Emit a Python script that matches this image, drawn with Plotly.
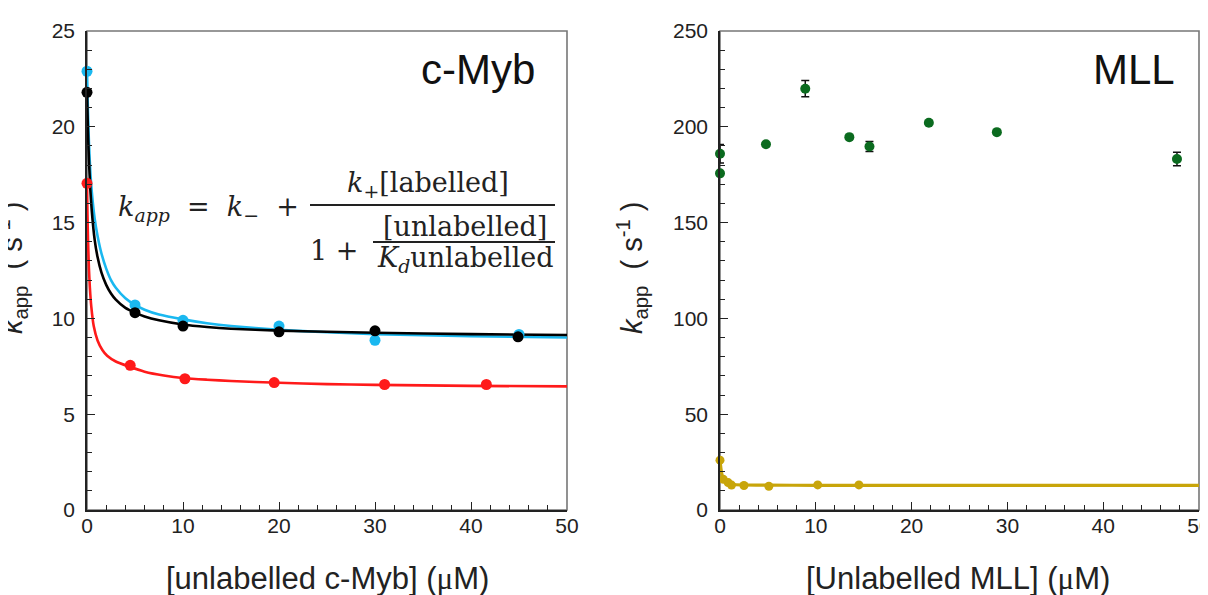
import plotly.graph_objects as go

# page has an 8px body margin; figure sized to fit the 1208x595 window
W, H = 1200, 587
OFF = 8

# ---- c-Myb panel data ----
cyan_pts_x = [0, 5, 10, 20, 30, 45]
cyan_pts_y = [22.9, 10.7, 9.9, 9.6, 8.86, 9.16]
black_pts_x = [0, 5, 10, 20, 30, 44.9]
black_pts_y = [21.8, 10.3, 9.6, 9.3, 9.35, 9.04]
red_pts_x = [0, 4.5, 10.2, 19.5, 31.0, 41.6]
red_pts_y = [17.05, 7.55, 6.85, 6.65, 6.55, 6.55]

cyan_fit_x = [0, 0.1, 0.2, 0.35, 0.5, 0.8, 1.1, 1.5, 2, 2.5, 3, 4, 5, 6, 7.5, 10, 12.5, 15, 20, 25, 30, 40, 50]
cyan_fit_y = [22.9, 20.8, 19.2, 17.6, 16.6, 15.2, 14.3, 13.4, 12.6, 12.0, 11.6, 11.05, 10.7, 10.45, 10.2, 9.95, 9.75, 9.6, 9.4, 9.28, 9.18, 9.07, 9.0]
black_fit_x = [0, 0.1, 0.2, 0.35, 0.5, 0.8, 1.1, 1.5, 2, 2.5, 3, 4, 5, 6, 7.5, 10, 12.5, 15, 20, 25, 30, 40, 50]
black_fit_y = [21.8, 19.8, 18.3, 16.7, 15.6, 14.1, 13.2, 12.4, 11.75, 11.3, 10.98, 10.55, 10.3, 10.1, 9.9, 9.68, 9.55, 9.46, 9.36, 9.3, 9.25, 9.18, 9.13]
red_fit_x = [0, 0.05, 0.1, 0.2, 0.3, 0.45, 0.7, 1.1, 1.6, 2.1, 3, 4.3, 6, 8, 10.2, 12.5, 15, 20, 25, 30, 40, 50]
red_fit_y = [17.0, 15.4, 14.2, 12.6, 11.6, 10.6, 9.6, 8.85, 8.35, 8.05, 7.75, 7.5, 7.22, 7.02, 6.88, 6.8, 6.73, 6.64, 6.57, 6.53, 6.48, 6.45]

# ---- MLL panel data ----
green_x = [0, 0, 4.8, 8.9, 13.5, 15.6, 21.8, 28.9, 47.7]
green_y = [185.9, 175.7, 190.9, 219.9, 194.6, 189.7, 202.1, 197.2, 183.2]
green_err = [4.8, 0, 0, 4.2, 0, 2.6, 0, 0, 3.5]
gold_x = [0, 0.35, 0.85, 1.2, 2.5, 5.1, 10.2, 14.5]
gold_y = [26.0, 16.0, 14.3, 13.0, 12.8, 12.4, 13.1, 13.1]
gold_fit_x = [0, 0.1, 0.2, 0.35, 0.6, 1.0, 1.5, 2.5, 5, 10, 20, 30, 40, 50]
gold_fit_y = [26.0, 21.5, 18.6, 16.3, 14.6, 13.7, 13.3, 13.05, 12.95, 12.9, 12.9, 12.9, 12.9, 12.9]

x_ticks = [0, 10, 20, 30, 40, 50]
left_y_ticks = [0, 5, 10, 15, 20, 25]
right_y_ticks = [0, 50, 100, 150, 200, 250]

CYAN = "#1ab8f0"
BLACK = "#000000"
RED = "#ff1a1a"
GREEN = "#0b6b1f"
GOLD = "#c8a50a"

def px(x):
    return (x - OFF) / W

def py(y):
    return 1 - (y - OFF) / H

fig = go.Figure()

for xs, ys, c in [(cyan_fit_x, cyan_fit_y, CYAN), (red_fit_x, red_fit_y, RED), (black_fit_x, black_fit_y, BLACK)]:
    fig.add_trace(go.Scatter(x=xs, y=ys, mode="lines", line=dict(color=c, width=2.6, shape="spline", smoothing=0.5),
                             xaxis="x", yaxis="y", showlegend=False, cliponaxis=False, hoverinfo="skip"))
for xs, ys, c in [(cyan_pts_x, cyan_pts_y, CYAN), (red_pts_x, red_pts_y, RED), (black_pts_x, black_pts_y, BLACK)]:
    fig.add_trace(go.Scatter(x=xs, y=ys, mode="markers", marker=dict(color=c, size=11),
                             xaxis="x", yaxis="y", showlegend=False, cliponaxis=False))

fig.add_trace(go.Scatter(x=gold_fit_x, y=gold_fit_y, mode="lines", line=dict(color=GOLD, width=3.2, shape="spline", smoothing=0.5),
                         xaxis="x2", yaxis="y2", showlegend=False, cliponaxis=False, hoverinfo="skip"))
fig.add_trace(go.Scatter(x=gold_x, y=gold_y, mode="markers", marker=dict(color=GOLD, size=9),
                         xaxis="x2", yaxis="y2", showlegend=False, cliponaxis=False))
fig.add_trace(go.Scatter(x=green_x, y=green_y, mode="markers", marker=dict(color=GREEN, size=10),
                         error_y=dict(type="data", array=green_err, visible=True, color="#111111", thickness=1.5, width=4),
                         xaxis="x2", yaxis="y2", showlegend=False, cliponaxis=False))

TICKFONT = dict(family="Liberation Sans, Arial, sans-serif", size=21, color="#222222")

def xaxis_cfg(domain, anchor):
    return dict(domain=domain, anchor=anchor, range=[0, 50], tickvals=x_ticks, ticks="inside", ticklen=8,
                tickwidth=1.3, tickcolor="#222222", showline=True, linecolor="#222222", linewidth=1.6,
                showgrid=False, zeroline=False, tickfont=TICKFONT, automargin=False, ticklabelstandoff=-4,
                ticklabeloverflow="allow",
                minor=dict(dtick=2, ticks="inside", ticklen=5, tickwidth=1.2, tickcolor="#222222", showgrid=False))

def yaxis_cfg(domain, anchor, rng, tickvals, minor_dtick):
    return dict(domain=domain, anchor=anchor, range=rng, tickvals=tickvals, ticks="inside", ticklen=8,
                tickwidth=1.3, tickcolor="#222222", showline=True, linecolor="#222222", linewidth=1.6,
                showgrid=False, zeroline=False, tickfont=TICKFONT, automargin=False, ticklabelstandoff=6,
                ticklabeloverflow="allow",
                minor=dict(dtick=minor_dtick, ticks="inside", ticklen=5, tickwidth=1.2, tickcolor="#222222", showgrid=False))

ydom = [py(510), py(31)]
fig.update_layout(
    width=W, height=H,
    margin=dict(l=0, r=0, t=0, b=0, autoexpand=False),
    paper_bgcolor="white", plot_bgcolor="white",
    xaxis=xaxis_cfg([px(87), px(567)], "y"),
    yaxis=yaxis_cfg(ydom, "x", [0, 25], left_y_ticks, 1),
    xaxis2=xaxis_cfg([px(720), px(1199)], "y2"),
    yaxis2=yaxis_cfg(ydom, "x2", [0, 250], right_y_ticks, 10),
)

for xr, yr in [("x domain", "y domain"), ("x2 domain", "y2 domain")]:
    fig.add_shape(type="rect", xref=xr, yref=yr, x0=0, x1=1, y0=0, y1=1,
                  line=dict(color="#777777", width=1.6), layer="below")

ann = []
TITLEFONT = dict(family="Liberation Sans, Arial, sans-serif", size=31, color="#222222")
YTFONT = dict(family="Liberation Sans, Arial, sans-serif", size=29, color="#222222")
MU = "<span style='font-family:Liberation Serif'>μ</span>"
ann.append(dict(text="[unlabelled c-Myb] (" + MU + "M)", x=px(327), y=py(578), xref="paper", yref="paper",
                showarrow=False, font=TITLEFONT, xanchor="center", yanchor="middle"))
ann.append(dict(text="[Unlabelled MLL] (" + MU + "M)", x=px(958), y=py(578), xref="paper", yref="paper",
                showarrow=False, font=TITLEFONT, xanchor="center", yanchor="middle"))
ytitle = "<i>k</i><sub>app</sub>  ( s<sup>-1</sup> )"
ann.append(dict(text=ytitle, x=px(12), y=py(268), xref="paper", yref="paper", textangle=-90,
                showarrow=False, font=YTFONT, xanchor="center", yanchor="middle"))
ann.append(dict(text=ytitle, x=px(632), y=py(268), xref="paper", yref="paper", textangle=-90,
                showarrow=False, font=YTFONT, xanchor="center", yanchor="middle"))
BIG = dict(family="Liberation Sans, Arial, sans-serif", size=42, color="#111111")
ann.append(dict(text="c-Myb", x=px(537), y=py(70), xref="paper", yref="paper", showarrow=False,
                font=BIG, xanchor="right", yanchor="middle"))
ann.append(dict(text="MLL", x=px(1177), y=py(70), xref="paper", yref="paper", showarrow=False,
                font=BIG, xanchor="right", yanchor="middle"))

EQ = dict(family="DejaVu Serif, serif", size=27, color="#222222")
ann.append(dict(text="<i>k</i><sub><i>app</i></sub>  =  <i>k</i><sub>−</sub>  +", x=px(116), y=py(208),
                xref="paper", yref="paper", showarrow=False, font=EQ, xanchor="left", yanchor="middle"))
ann.append(dict(text="<i>k</i><sub>+</sub>[labelled]", x=px(428), y=py(184),
                xref="paper", yref="paper", showarrow=False, font=EQ, xanchor="center", yanchor="middle"))
ann.append(dict(text="1 +", x=px(334), y=py(250),
                xref="paper", yref="paper", showarrow=False, font=EQ, xanchor="center", yanchor="middle"))
ann.append(dict(text="[unlabelled]", x=px(465), y=py(226),
                xref="paper", yref="paper", showarrow=False, font=EQ, xanchor="center", yanchor="middle"))
ann.append(dict(text="<i>K</i><sub><i>d</i></sub>unlabelled", x=px(465), y=py(259),
                xref="paper", yref="paper", showarrow=False, font=EQ, xanchor="center", yanchor="middle"))
fig.update_layout(annotations=ann)
fig.add_shape(type="line", xref="paper", yref="paper", x0=px(310), x1=px(555), y0=py(205), y1=py(205),
              line=dict(color="#222222", width=2))
fig.add_shape(type="line", xref="paper", yref="paper", x0=px(373), x1=px(555), y0=py(242), y1=py(242),
              line=dict(color="#222222", width=2))

fig.write_html("out.html")
